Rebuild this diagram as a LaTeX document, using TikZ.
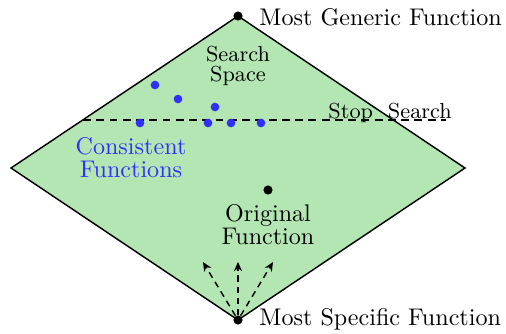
\documentclass[tikz,border=0pt]{standalone}
\usetikzlibrary{arrows.meta}
\definecolor{spacegreen}{RGB}{179,230,179}
\definecolor{dotblue}{RGB}{48,48,250}
\begin{document}
\begin{tikzpicture}[x=0.415pt,y=-0.415pt,
  dot/.style={circle,fill=black,inner sep=0pt,minimum size=3.8pt},
  bluedot/.style={circle,fill=dotblue,inner sep=0pt,minimum size=3.6pt},
  lbl/.style={font=\fontsize{10}{9.6}\selectfont,inner sep=0pt,align=center},
  smalllbl/.style={font=\fontsize{9}{8.3}\selectfont,inner sep=0pt,align=center},
  stopline/.style={semithick,dash pattern=on 3.3pt off 2.2pt},
  probe/.style={semithick,dash pattern=on 2.6pt off 2pt,-{Stealth[length=3.8pt,width=3.4pt]}}]
\useasboundingbox (0,0) rectangle (506,333);

% search space: a diamond between the most generic and most specific functions
\coordinate (top) at (238,16);
\coordinate (right) at (465,168);
\coordinate (bottom) at (238,320);
\coordinate (left) at (11,168);
\filldraw[fill=spacegreen,draw=black,semithick] (top) -- (right) -- (bottom) -- (left) -- cycle;

% stopping level of the search
\coordinate (stopL) at (83,120);
\coordinate (stopR) at (446,120);
\draw[stopline] (stopL) -- (stopR);
\node[smalllbl,anchor=base west] (stoptxt) at (328,118) {Stop\ \ Search};

% end points
\node[dot] (gen) at (top) {};
\node[dot] (spec) at (bottom) {};
\node[lbl,anchor=base west] (gentxt) at (259,25) {Most Generic Function};
\node[lbl,anchor=base west] (spectxt) at (259,325) {Most Specific Function};

% consistent functions found by the search
\node[bluedot] (c1) at (155,85) {};
\node[bluedot] (c2) at (178,99) {};
\node[bluedot] (c3) at (215,107) {};
\node[bluedot] (c4) at (140,123) {};
\node[bluedot] (c5) at (208,123) {};
\node[bluedot] (c6) at (231,123) {};
\node[bluedot] (c7) at (261,123) {};

\node[smalllbl] (spacetxt) at (238,66) {Search\\Space};
\node[lbl,text=dotblue] (constxt) at (131,158) {Consistent\\Functions};

% original function
\node[dot] (orig) at (268,190) {};
\node[lbl] (origtxt) at (268,225) {Original\\Function};

% search directions starting from the most specific function
\coordinate (a1) at (203,262);
\coordinate (a2) at (238,262);
\coordinate (a3) at (273,262);
\draw[probe] (spec) -- (a1);
\draw[probe] (spec) -- (a2);
\draw[probe] (spec) -- (a3);
\end{tikzpicture}
\end{document}
